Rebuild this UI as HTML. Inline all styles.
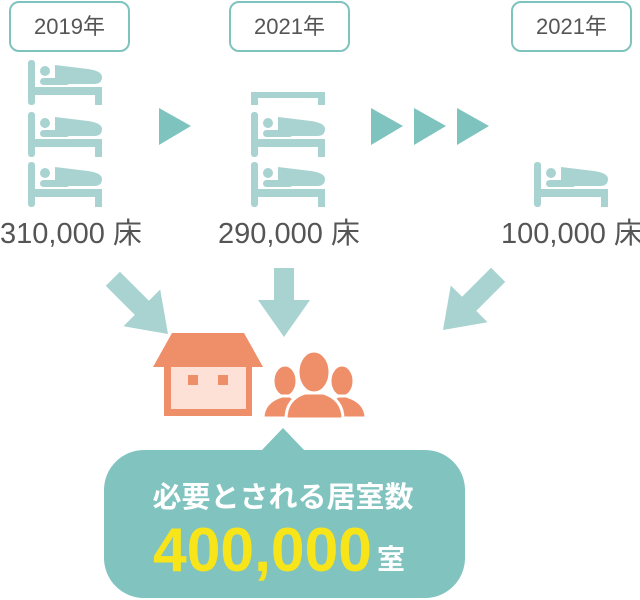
<!DOCTYPE html>
<html><head><meta charset="utf-8"><style>
body{margin:0;background:#fff;width:640px;height:600px;overflow:hidden;position:relative;font-family:"Liberation Sans","Noto Sans CJK JP",sans-serif}
.yb{position:absolute;top:1px;width:117px;height:47px;border:2px solid #7fc3bf;border-radius:10px;font-size:22px;color:#555;text-align:center;line-height:47px}
.lb{position:absolute;top:210px;font-size:29px;color:#555;white-space:nowrap}
</style></head><body>
<div class="yb" style="left:9px">2019年</div>
<div class="yb" style="left:229px">2021年</div>
<div class="yb" style="left:511px">2021年</div>
<div class="lb" style="left:0px">310,000 床</div>
<div class="lb" style="left:218px">290,000 床</div>
<div class="lb" style="left:501px">100,000 床</div>
<svg width="640" height="600" style="position:absolute;left:0;top:0">
<defs><g id="bed" fill="#a9d3d1">
<rect x="0" y="0" width="7" height="45" rx="3"/>
<rect x="0" y="27" width="74" height="8"/>
<rect x="67" y="27" width="7" height="18"/>
<circle cx="17" cy="11" r="5"/>
<rect x="12" y="18" width="30" height="7" rx="3.5"/>
<path d="M27 5 L60 9 Q74 11 74 17 Q74 24 66 24 L27 24 Z"/>
</g></defs>
<use href="#bed" x="28" y="60"/><use href="#bed" x="28" y="112"/><use href="#bed" x="28" y="162"/>
<use href="#bed" x="251" y="112"/><use href="#bed" x="251" y="162"/>
<g fill="#a9d3d1"><rect x="251" y="92" width="74" height="6"/><rect x="251" y="92" width="7" height="13"/><rect x="318" y="92" width="7" height="13"/></g>
<use href="#bed" x="534" y="162"/>
<g fill="#7fc3bf">
<polygon points="159,108 191,126 159,145"/>
<polygon points="371,108 403,126 371,145"/>
<polygon points="414,108 446,126 414,145"/>
<polygon points="457,108 489,126 457,145"/>
</g>
<g fill="#a9d3d1">
<polygon points="274,268 294,268 294,300 310,300 284,337 258,300 274,300"/>
<g transform="translate(443,330) rotate(-135)"><polygon points="0,0 -26,37 -10,37 -10,78 10,78 10,37 26,37"/></g>
<g transform="translate(168,334) rotate(135)"><polygon points="0,0 -26,37 -10,37 -10,78 10,78 10,37 26,37"/></g>
</g>
<g fill="#ef8f6a">
<polygon points="172,333 244,333 263,367 153,367"/>
<rect x="164" y="367" width="88" height="49"/>
</g>
<rect x="171" y="367" width="75" height="42" fill="#fde0d6"/>
<rect x="188" y="375" width="10" height="10" fill="#ef8f6a"/>
<rect x="218" y="375" width="10" height="10" fill="#ef8f6a"/>
<g fill="#ef8f6a" stroke="#fff" stroke-width="3">
<ellipse cx="285" cy="381" rx="12" ry="16"/>
<path d="M263 418 Q263 402 282 396 L290 396 Q300 402 302 418 Z"/>
<ellipse cx="342" cy="381" rx="12" ry="16"/>
<path d="M326 418 Q327 402 338 396 L346 396 Q366 402 366 418 Z"/>
<ellipse cx="314" cy="372" rx="16" ry="21"/>
<path d="M286 419 Q286 399 305 393 L323 393 Q343 399 343 419 Z"/>
</g>
<rect x="104" y="450" width="361" height="148" rx="40" fill="#81c3bf"/>
<polygon points="283,428 305,451 261,451" fill="#81c3bf"/>
<text x="283" y="507" text-anchor="middle" fill="#fff" font-size="29" font-weight="bold" font-family="Liberation Sans,Noto Sans CJK JP,sans-serif">必要とされる居室数</text>
<text x="153" y="571" fill="#f7e51a" font-size="62" font-weight="bold" font-family="Liberation Sans,sans-serif" textLength="219" lengthAdjust="spacingAndGlyphs">400,000</text>
<text x="377" y="569" fill="#fff" font-size="28" font-weight="bold" font-family="Liberation Sans,Noto Sans CJK JP,sans-serif">室</text>
</svg>
</body></html>
